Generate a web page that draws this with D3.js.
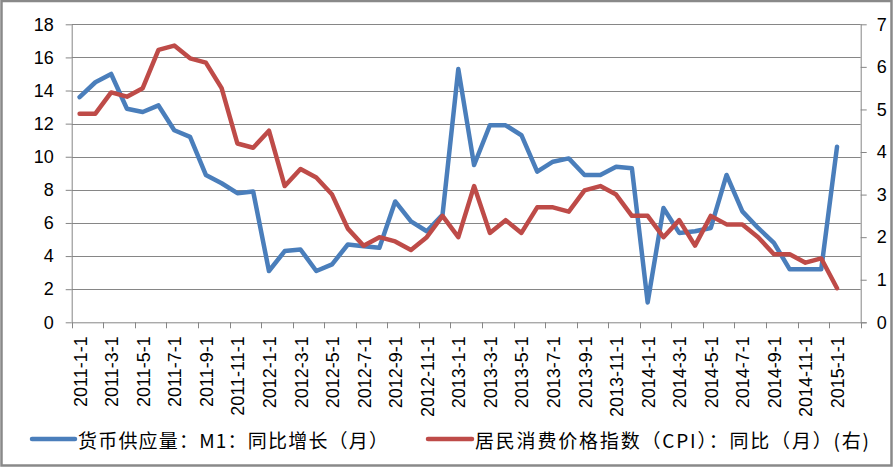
<!DOCTYPE html>
<html>
<head>
<meta charset="utf-8">
<script src="https://cdn.jsdelivr.net/npm/d3@7/dist/d3.min.js"></script>
<style>
  html, body { margin: 0; padding: 0; background: #fff; }
  svg { display: block; }
</style>
</head>
<body>
<svg id="chart" width="895" height="469"></svg>
<script>
// ---- data ----
const categories = [
  "2011-1-1","2011-2-1","2011-3-1","2011-4-1","2011-5-1","2011-6-1","2011-7-1","2011-8-1","2011-9-1","2011-10-1","2011-11-1","2011-12-1",
  "2012-1-1","2012-2-1","2012-3-1","2012-4-1","2012-5-1","2012-6-1","2012-7-1","2012-8-1","2012-9-1","2012-10-1","2012-11-1","2012-12-1",
  "2013-1-1","2013-2-1","2013-3-1","2013-4-1","2013-5-1","2013-6-1","2013-7-1","2013-8-1","2013-9-1","2013-10-1","2013-11-1","2013-12-1",
  "2014-1-1","2014-2-1","2014-3-1","2014-4-1","2014-5-1","2014-6-1","2014-7-1","2014-8-1","2014-9-1","2014-10-1","2014-11-1","2014-12-1",
  "2015-1-1","2015-2-1"
];
const m1Values = [
  13.6, 14.5, 15.0, 12.9, 12.7, 13.1, 11.6, 11.2, 8.9, 8.4, 7.8, 7.9,
  3.1, 4.3, 4.4, 3.1, 3.5, 4.7, 4.6, 4.5, 7.3, 6.1, 5.5, 6.5,
  15.3, 9.5, 11.9, 11.9, 11.3, 9.1, 9.7, 9.9, 8.9, 8.9, 9.4, 9.3,
  1.2, 6.9, 5.4, 5.5, 5.7, 8.9, 6.7, 5.7, 4.8, 3.2, 3.2, 3.2,
  10.6, null
];
const cpiValues = [
  4.9, 4.9, 5.4, 5.3, 5.5, 6.4, 6.5, 6.2, 6.1, 5.5, 4.2, 4.1,
  4.5, 3.2, 3.6, 3.4, 3.0, 2.2, 1.8, 2.0, 1.9, 1.7, 2.0, 2.5,
  2.0, 3.2, 2.1, 2.4, 2.1, 2.7, 2.7, 2.6, 3.1, 3.2, 3.0, 2.5,
  2.5, 2.0, 2.4, 1.8, 2.5, 2.3, 2.3, 2.0, 1.6, 1.6, 1.4, 1.5,
  0.8, null
];
const leftTicks = [0, 2, 4, 6, 8, 10, 12, 14, 16, 18];
const rightTicks = [0, 1, 2, 3, 4, 5, 6, 7];
const seriesNames = ["货币供应量：M1：同比增长（月）", "居民消费价格指数（CPI）：同比（月）(右)"];
const seriesColors = ["#4A7EBB", "#BE4B48"];

// ---- layout ----
const svg = d3.select("#chart");
const W = 895, H = 469;
const plot = { left: 71.7, right: 860.7, top: 24.3, bottom: 322.3 };
const gridColor = "#868686";

svg.append("rect").attr("x", 1.5).attr("y", 1).attr("width", 890).attr("height", 464.5)
  .attr("fill", "#fff").attr("stroke", "#898989").attr("stroke-width", 2.5);

const x = d3.scaleBand().domain(categories).range([plot.left, plot.right]).padding(0);
const yL = d3.scaleLinear().domain([0, 18]).range([plot.bottom, plot.top]);
const yR = d3.scaleLinear().domain([0, 7]).range([plot.bottom, plot.top]);

// gridlines
svg.append("g").selectAll("line").data(leftTicks.filter(d => d > 0)).join("line")
  .attr("x1", plot.left).attr("x2", plot.right)
  .attr("y1", d => Math.round(yL(d)) + 0.5).attr("y2", d => Math.round(yL(d)) + 0.5)
  .attr("stroke", gridColor).attr("stroke-width", 1);

const fontNum = "'Liberation Sans', Arial, sans-serif";

// left axis
const gL = svg.append("g").attr("transform", `translate(${plot.left},0)`)
  .call(d3.axisLeft(yL).tickValues(leftTicks).tickSize(6).tickPadding(12).tickFormat(d3.format("d")));
gL.select(".domain").attr("stroke", gridColor).attr("d", `M0.5,${plot.top}V${plot.bottom}`);
gL.selectAll(".tick line").attr("stroke", gridColor);
gL.selectAll(".tick text").attr("font-family", fontNum).attr("font-size", 18).attr("fill", "#000");

// right axis
const gR = svg.append("g").attr("transform", `translate(${plot.right},0)`)
  .call(d3.axisRight(yR).tickValues(rightTicks).tickSize(6).tickPadding(10).tickFormat(d3.format("d")));
gR.select(".domain").attr("stroke", gridColor).attr("d", `M0.5,${plot.top}V${plot.bottom}`);
gR.selectAll(".tick line").attr("stroke", gridColor);
gR.selectAll(".tick text").attr("font-family", fontNum).attr("font-size", 18).attr("fill", "#000");

// bottom axis line + ticks (every 2 categories at band edges)
svg.append("line").attr("x1", plot.left).attr("x2", plot.right + 6)
  .attr("y1", plot.bottom + 0.5).attr("y2", plot.bottom + 0.5).attr("stroke", gridColor);
const tickIdx = d3.range(0, categories.length + 1, 2);
svg.append("g").selectAll("line").data(tickIdx).join("line")
  .attr("x1", i => Math.round(plot.left + i * x.step()) + 0.5)
  .attr("x2", i => Math.round(plot.left + i * x.step()) + 0.5)
  .attr("y1", plot.bottom).attr("y2", plot.bottom + 6)
  .attr("stroke", gridColor);

// x labels
const labelCats = categories.filter((d, i) => i % 2 === 0 && i < 49);
svg.append("g").selectAll("text").data(labelCats).join("text")
  .attr("transform", d => `translate(${x(d) + x.bandwidth() / 2 + 1},${plot.bottom + 14}) rotate(-90)`)
  .attr("text-anchor", "end").attr("dominant-baseline", "central")
  .attr("font-family", fontNum).attr("font-size", 18).attr("fill", "#000")
  .text(d => d);

// lines
const lineL = d3.line().defined(d => d != null).x((d, i) => x(categories[i]) + x.bandwidth() / 2).y(d => yL(d));
const lineR = d3.line().defined(d => d != null).x((d, i) => x(categories[i]) + x.bandwidth() / 2).y(d => yR(d));
svg.append("path").datum(m1Values).attr("d", lineL).attr("fill", "none")
  .attr("stroke", seriesColors[0]).attr("stroke-width", 4.5).attr("stroke-linejoin", "round").attr("stroke-linecap", "round");
svg.append("path").datum(cpiValues).attr("d", lineR).attr("fill", "none")
  .attr("stroke", seriesColors[1]).attr("stroke-width", 4.5).attr("stroke-linejoin", "round").attr("stroke-linecap", "round");

// legend
const legY = 439;
const legend = [
  { x1: 32, x2: 75, tx: 78, tw: 310 },
  { x1: 428, x2: 472, tx: 475, tw: 394 }
];
legend.forEach((l, i) => {
  svg.append("line").attr("x1", l.x1).attr("x2", l.x2).attr("y1", legY).attr("y2", legY)
    .attr("stroke", seriesColors[i]).attr("stroke-width", 4.5).attr("stroke-linecap", "round");
  svg.append("text").attr("x", l.tx).attr("y", legY).attr("dominant-baseline", "central")
    .attr("font-family", "'Noto Sans CJK SC', sans-serif").attr("font-size", 19).attr("fill", "#000")
    .attr("textLength", l.tw).attr("lengthAdjust", "spacing")
    .text(seriesNames[i]);
});
</script>
</body>
</html>
